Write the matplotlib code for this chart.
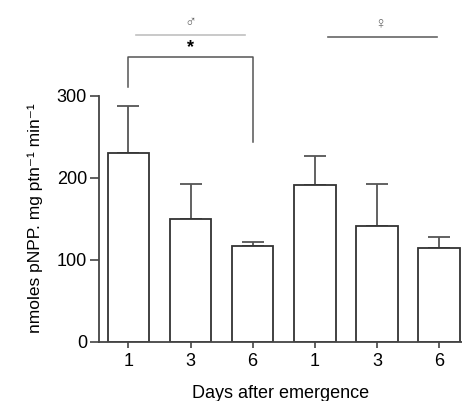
import numpy as np
import matplotlib
matplotlib.use('Agg')
import matplotlib.pyplot as plt

plt.rcParams['font.family'] = ['Liberation Sans', 'DejaVu Sans']

# Datos
dias = ['1', '3', '6', '1', '3', '6']
media = [230, 150, 117, 191, 141, 114]
error = [57, 42, 5, 36, 51, 14]

fig = plt.figure(figsize=(4.62, 4.01), dpi=100)
ax = fig.add_axes([0.214, 0.148, 0.786, 0.6135])

x = np.arange(len(media))
ax.bar(x, media, width=0.67, color='white', edgecolor='#333333', linewidth=1.3, zorder=2)
ax.errorbar(x, media, yerr=[np.zeros(len(error)), error], fmt='none',
            ecolor='#555555', elinewidth=1.3, capsize=7.8, capthick=1.3, zorder=1)

ax.set_xlim(-0.475, 5.37)
ax.set_ylim(0, 300)
ax.set_yticks([0, 100, 200, 300])
ax.set_xticks(x)
ax.set_xticklabels(dias)
ax.tick_params(axis='y', length=6.5, width=1.2, color='#444444', labelsize=13, pad=2)
ax.tick_params(axis='x', length=4, width=1.2, color='#444444', labelsize=13, pad=4)
for s in ['top', 'right']:
    ax.spines[s].set_visible(False)
ax.spines['left'].set_color('#444444')
ax.spines['bottom'].set_color('#444444')
ax.spines['left'].set_linewidth(1.3)
ax.spines['bottom'].set_linewidth(1.3)

ax.set_xlabel('Days after emergence', fontsize=13, labelpad=11)
ax.set_ylabel('nmoles pNPP. mg ptn⁻¹ min⁻¹', fontsize=12.5, labelpad=10)

# Corchete de significancia
ax.plot([0, 0, 2, 2], [311, 347, 347, 244], color='#555555', lw=1.1, clip_on=False)
ax.text(1, 358, '*', ha='center', va='center', fontsize=13, fontweight='bold')

# Líneas de sexo
ax.plot([0.12, 1.88], [373.5, 373.5], color='#c0c0c0', lw=1.2, clip_on=False)
ax.plot([3.21, 4.97], [372, 372], color='#666666', lw=1.2, clip_on=False)
ax.text(1, 389, '♂', ha='center', va='center', fontsize=11.5, color='#666666')
ax.text(4.05, 389, '♀', ha='center', va='center', fontsize=11.5, color='#666666')

fig.savefig('out.png', dpi=100)
